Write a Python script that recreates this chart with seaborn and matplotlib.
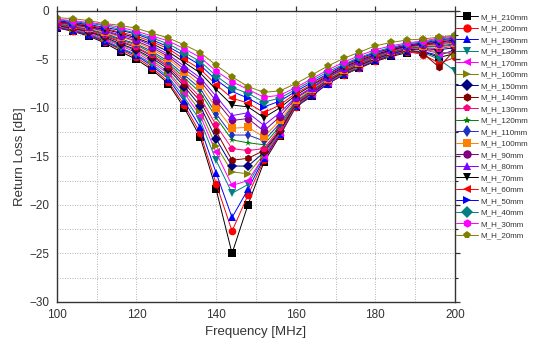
import numpy as np
import pandas as pd
import matplotlib
matplotlib.use("Agg")
import matplotlib.pyplot as plt
import seaborn as sns

freq = list(range(100, 201, 4))

labels = ["M_H_210mm", "M_H_200mm", "M_H_190mm", "M_H_180mm", "M_H_170mm",
          "M_H_160mm", "M_H_150mm", "M_H_140mm", "M_H_130mm", "M_H_120mm",
          "M_H_110mm", "M_H_100mm", "M_H_90mm", "M_H_80mm", "M_H_70mm",
          "M_H_60mm", "M_H_50mm", "M_H_40mm", "M_H_30mm", "M_H_20mm"]

rl_210 = [-1.75, -2.1, -2.6, -3.3, -4.2, -5.0, -6.1, -7.5, -10.0, -13.0, -18.4, -25.0, -20.0, -15.6, -12.9, -9.9, -8.8, -7.5, -6.6, -5.9, -5.2, -4.7, -4.3, -4.2, -4.8, -4.4]
rl_200 = [-1.7, -2.05, -2.5, -3.2, -4.0, -4.8, -5.9, -7.3, -9.7, -12.6, -17.8, -22.7, -19.0, -15.4, -12.8, -9.9, -8.7, -7.5, -6.6, -5.85, -5.15, -4.6, -4.2, -4.5, -5.4, -4.8]
rl_190 = [-1.65, -2.0, -2.45, -3.1, -3.9, -4.6, -5.7, -7.0, -9.3, -12.0, -16.7, -21.3, -18.4, -15.2, -12.7, -9.8, -8.7, -7.5, -6.5, -5.8, -5.1, -4.55, -4.15, -4.2, -4.6, -4.0]
rl_180 = [-1.6, -1.95, -2.4, -3.0, -3.8, -4.5, -5.5, -6.8, -8.9, -11.3, -15.4, -18.8, -17.9, -15.0, -12.6, -9.8, -8.6, -7.4, -6.5, -5.75, -5.05, -4.5, -4.1, -4.3, -5.0, -6.2]
rl_170 = [-1.55, -1.9, -2.3, -2.9, -3.6, -4.3, -5.3, -6.5, -8.5, -10.8, -14.6, -18.0, -17.5, -15.0, -12.6, -9.7, -8.6, -7.4, -6.4, -5.7, -5.0, -4.45, -4.05, -4.0, -4.4, -4.2]
rl_160 = [-1.5, -1.85, -2.2, -2.8, -3.5, -4.1, -5.1, -6.3, -8.2, -10.3, -13.9, -16.6, -16.8, -14.8, -12.5, -9.7, -8.5, -7.3, -6.4, -5.65, -5.0, -4.4, -4.0, -4.0, -4.2, -4.5]
rl_150 = [-1.5, -1.8, -2.15, -2.7, -3.4, -4.0, -4.9, -6.0, -7.8, -9.8, -13.2, -16.0, -16.0, -14.6, -12.4, -9.6, -8.5, -7.3, -6.3, -5.6, -4.95, -4.4, -4.0, -3.9, -4.0, -3.8]
rl_140 = [-1.45, -1.75, -2.1, -2.6, -3.2, -3.8, -4.7, -5.8, -7.5, -9.3, -12.4, -15.4, -15.2, -14.4, -12.3, -9.6, -8.4, -7.2, -6.3, -5.55, -4.9, -4.35, -3.95, -4.4, -5.8, -4.0]
rl_130 = [-1.4, -1.7, -2.0, -2.5, -3.1, -3.7, -4.6, -5.6, -7.2, -8.9, -11.8, -14.2, -14.4, -14.2, -12.1, -9.5, -8.4, -7.2, -6.2, -5.5, -4.85, -4.3, -3.9, -3.8, -3.9, -3.6]
rl_120 = [-1.35, -1.6, -1.95, -2.4, -3.0, -3.5, -4.4, -5.4, -6.9, -8.4, -11.0, -13.3, -13.6, -13.8, -11.9, -9.4, -8.3, -7.1, -6.2, -5.45, -4.8, -4.25, -3.85, -3.7, -3.7, -3.5]
rl_110 = [-1.3, -1.55, -1.9, -2.3, -2.9, -3.4, -4.2, -5.2, -6.6, -8.0, -10.6, -12.8, -12.8, -13.4, -11.6, -9.3, -8.2, -7.1, -6.1, -5.4, -4.75, -4.2, -3.8, -3.65, -3.6, -3.4]
rl_100 = [-1.25, -1.5, -1.8, -2.2, -2.7, -3.2, -4.0, -4.9, -6.3, -7.6, -10.0, -12.1, -12.0, -13.0, -11.3, -9.2, -8.1, -7.0, -6.1, -5.35, -4.7, -4.15, -3.75, -3.6, -3.5, -3.3]
rl_90 = [-1.2, -1.45, -1.7, -2.1, -2.6, -3.1, -3.8, -4.7, -6.0, -7.2, -9.3, -11.3, -11.1, -12.4, -10.9, -9.0, -8.0, -6.9, -6.0, -5.3, -4.65, -4.1, -3.7, -3.5, -3.4, -3.2]
rl_80 = [-1.15, -1.4, -1.65, -2.0, -2.5, -2.9, -3.6, -4.5, -5.7, -6.9, -8.8, -10.8, -10.5, -11.8, -10.5, -8.9, -7.9, -6.8, -5.9, -5.2, -4.6, -4.05, -3.65, -3.45, -3.3, -3.1]
rl_70 = [-1.1, -1.3, -1.6, -1.9, -2.3, -2.8, -3.4, -4.2, -5.3, -6.4, -8.1, -9.7, -9.9, -11.0, -10.0, -8.7, -7.7, -6.7, -5.8, -5.1, -4.5, -4.0, -3.6, -3.4, -3.2, -3.0]
rl_60 = [-1.05, -1.25, -1.5, -1.8, -2.2, -2.6, -3.2, -3.9, -5.0, -6.0, -7.6, -9.0, -9.5, -10.5, -9.7, -8.5, -7.6, -6.6, -5.7, -5.0, -4.4, -3.9, -3.55, -3.35, -3.1, -2.9]
rl_50 = [-1.0, -1.2, -1.4, -1.7, -2.0, -2.4, -3.0, -3.7, -4.6, -5.6, -7.1, -8.3, -9.0, -9.9, -9.3, -8.3, -7.4, -6.5, -5.6, -4.9, -4.3, -3.85, -3.5, -3.3, -3.0, -2.8]
rl_40 = [-0.9, -1.1, -1.3, -1.5, -1.9, -2.3, -2.8, -3.4, -4.3, -5.2, -6.7, -7.9, -8.5, -9.4, -9.0, -8.1, -7.2, -6.3, -5.5, -4.8, -4.2, -3.75, -3.4, -3.2, -2.9, -2.7]
rl_30 = [-0.85, -1.0, -1.2, -1.4, -1.7, -2.1, -2.6, -3.1, -3.9, -4.8, -6.2, -7.3, -8.1, -8.9, -8.7, -7.9, -7.0, -6.1, -5.3, -4.6, -4.0, -3.6, -3.3, -3.1, -2.8, -2.6]
rl_20 = [-0.7, -0.8, -1.0, -1.3, -1.5, -1.8, -2.3, -2.8, -3.5, -4.3, -5.6, -6.8, -7.8, -8.4, -8.25, -7.5, -6.6, -5.7, -4.9, -4.25, -3.6, -3.25, -3.0, -2.9, -2.7, -2.5]

series = [rl_210, rl_200, rl_190, rl_180, rl_170, rl_160, rl_150, rl_140, rl_130, rl_120,
          rl_110, rl_100, rl_90, rl_80, rl_70, rl_60, rl_50, rl_40, rl_30, rl_20]

colors = ["#000000", "#FF0000", "#0000FF", "#008080", "#FF00FF", "#808000", "#000080",
          "#800000", "#FF0080", "#008000", "#2030C0", "#FF8000", "#800080", "#8000FF",
          "#000000", "#FF0000", "#0000FF", "#008080", "#FF00FF", "#808000"]
markers = ["s", "o", "^", "v", "<", ">", "D", "h", "p", "*", "d",
           "s", "o", "^", "v", "<", ">", "D", "h", "p"]

rows = []
for lab, vals in zip(labels, series):
    for f, v in zip(freq, vals):
        rows.append((f, v, lab))
df = pd.DataFrame(rows, columns=["Frequency", "RL", "Series"])

sns.set_style("white")
plt.rcParams["font.family"] = ["Liberation Sans", "DejaVu Sans"]

fig = plt.figure(figsize=(5.36, 3.51), dpi=100)
ax = fig.add_axes([0.106, 0.140, 0.743, 0.829])

sns.lineplot(data=df, x="Frequency", y="RL", hue="Series", style="Series",
             hue_order=labels, style_order=labels,
             palette=dict(zip(labels, colors)), markers=dict(zip(labels, markers)),
             dashes=False, linewidth=0.7, markersize=5.5, markeredgewidth=0,
             ax=ax, legend="full")

ax.set_xlim(100, 200)
ax.set_ylim(-30, 0)
ax.set_xticks([100, 120, 140, 160, 180, 200])
ax.set_xticks(np.arange(100, 201, 10), minor=True)
ax.set_yticks(np.arange(-30, 1, 5))
ax.set_yticks(np.arange(-30, 0.1, 2.5), minor=True)
ax.grid(True, which="both", color="#aaaaaa", linestyle=(0, (1.2, 1.8)), linewidth=0.6)
ax.set_axisbelow(True)
for s in ax.spines.values():
    s.set_color("#333333")
    s.set_linewidth(1.0)
ax.tick_params(which="major", direction="out", length=3.5, width=0.9, labelsize=8.5,
               colors="#333333", pad=2)
ax.tick_params(which="minor", direction="out", length=2, width=0.8)
ax.tick_params(top=True, right=True, which="both")
ax.set_xlabel("Frequency [MHz]", fontsize=9.5, color="#333333", labelpad=3)
ax.set_ylabel("Return Loss [dB]", fontsize=9.5, color="#333333", labelpad=2)

leg = ax.legend(loc="upper left", bbox_to_anchor=(0.992, 1.005), frameon=False,
                fontsize=5.8, handlelength=2.7, labelspacing=0.48, handletextpad=0.3,
                borderaxespad=0.2, borderpad=0.3, markerscale=1.1)
for t in leg.get_texts():
    t.set_color("#333333")

fig.savefig("out.png", dpi=100)
